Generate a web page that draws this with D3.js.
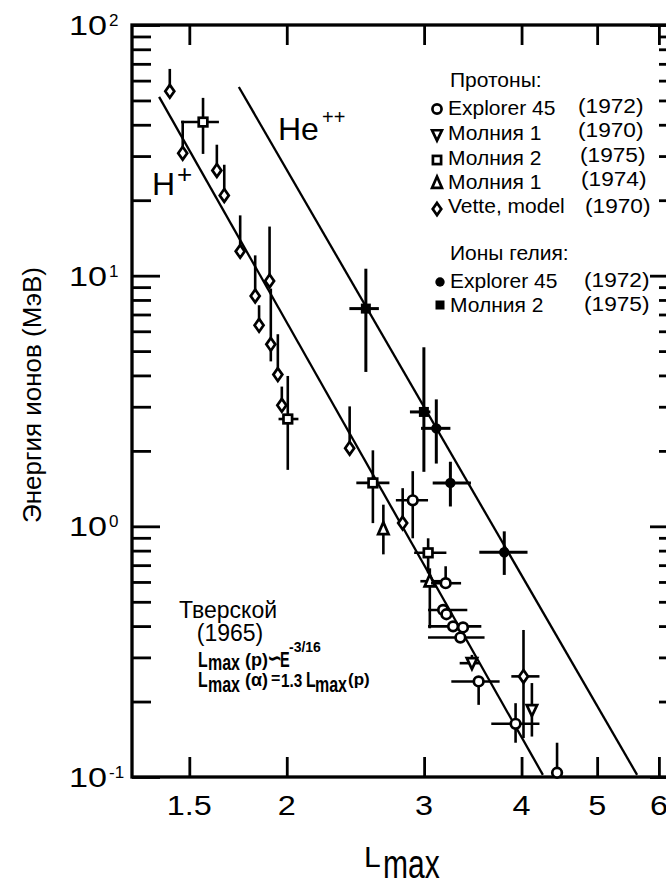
<!DOCTYPE html>
<html>
<head>
<meta charset="utf-8">
<script src="https://cdn.jsdelivr.net/npm/d3@7"></script>
<style>
  html, body { margin: 0; padding: 0; background: #fff; }
  svg { display: block; font-family: "Liberation Sans", Arial, sans-serif; }
</style>
</head>
<body>
<svg id="chart" width="666" height="882"></svg>
<script>
// ---------- data ----------
// x: L_max, y: ion energy (MeV)
const xTickValues = [1.5, 2, 3, 4, 5, 6];
const xTickLabels = ["1.5", "2", "3", "4", "5", "6"];
const yDecadeExponents = [2, 1, 0, -1];

// fitted lines, [L, E] end points
const protonLine = [[1.372, 51.7], [4.26, 0.102]];
const heliumLine = [[1.736, 56.6], [5.626, 0.102]];

// points: [L, E, L_low, L_high, E_low, E_high]  (null = no bar on that side)
const explorerProtons = [
  [2.901, 1.27, 2.760, 3.035, 0.896, 1.66],
  [3.197, 0.593, 3.062, 3.346, null, 0.693],
  [3.173, 0.464, 3.035, 3.408, null, null],
  [3.204, 0.446, null, null, null, null],
  [3.268, 0.399, 3.035, 3.552, null, null],
  [3.365, 0.395, null, null, null, null],
  [3.339, 0.360, 3.035, 3.586, null, null],
  [3.524, 0.2405, 3.251, 3.749, 0.194, null],
  [3.930, 0.163, 3.658, 4.217, 0.137, 0.197],
  [4.442, 0.104, null, null, null, 0.137]
];
const molniya1_1970 = [
  [3.455, 0.2845, 3.332, 3.534, null, 0.307],
  [4.124, 0.185, null, null, 0.145, 0.237]
];
const molniya2Protons = [
  [1.562, 41.0, 1.464, 1.637, 30.6, 51.2],
  [2.006, 2.68, 1.952, 2.070, 1.68, 3.98],
  [2.579, 1.49, 2.456, 2.708, 1.03, 2.01],
  [3.036, 0.784, 2.913, 3.204, 0.65, 0.896]
];
const molniya1_1974 = [
  [2.660, 0.976, null, null, 0.773, 1.22],
  [3.051, 0.604, 2.967, 3.157, 0.392, 0.680]
];
const vetteModel = [
  [1.416, 54.4, null, null, null, 66.8],
  [1.471, 30.8, null, null, null, 41.5],
  [1.627, 26.3, null, null, null, 33.3],
  [1.663, 20.9, null, null, null, 27.7],
  [1.743, 12.5, null, null, null, 17.4],
  [1.822, 8.30, null, null, null, 12.05],
  [1.901, 9.53, null, null, null, 15.7],
  [1.843, 6.34, null, null, null, 7.62],
  [1.908, 5.32, null, null, 4.55, 8.88],
  [1.948, 4.03, null, null, null, 5.84],
  [1.971, 3.04, null, null, null, 3.61],
  [2.408, 2.05, null, null, null, 3.01],
  [2.816, 1.03, null, null, null, 1.42],
  [4.023, 0.252, 3.881, 4.217, 0.143, 0.386]
];
const explorerHelium = [
  [3.110, 2.46, 2.973, 3.242, 1.78, 3.21],
  [3.242, 1.49, 3.077, 3.445, 1.20, 1.81],
  [3.801, 0.788, 3.531, 4.071, 0.640, 0.955]
];
const molniya2Helium = [
  [2.526, 7.39, 2.406, 2.625, 4.13, 10.66],
  [2.998, 2.86, 2.877, 3.056, 1.65, 5.18]
];

// legend entries
const protonNames = ["Explorer 45", "Молния 1", "Молния 2", "Молния 1", "Vette, model"];
const protonYears = ["(1972)", "(1970)", "(1975)", "(1974)", "(1970)"];
const protonMarkers = ["circle", "triDown", "square", "triUp", "diamond"];
const heliumNames = ["Explorer 45", "Молния 2"];
const heliumYears = ["(1972)", "(1975)"];
const heliumMarkers = ["dot", "block"];

// ---------- scales ----------
const svg = d3.select("#chart");
const X0 = 132, X1 = 678, Y0 = 25, Y1 = 777;
const x = d3.scaleLog().domain([1.2665, 6.348]).range([X0, X1]);
const y = d3.scaleLog().domain([0.1, 100]).range([Y1, Y0]);

// ---------- helpers ----------
function txt(g, str, px, py, o = {}) {
  return g.append("text")
    .attr("transform", `translate(${px},${py})` +
      (o.rot ? ` rotate(${o.rot})` : "") +
      ` scale(${o.sx || 1},${o.sy || 1})`)
    .attr("font-size", o.size || 20)
    .attr("font-weight", o.weight || "normal")
    .attr("text-anchor", o.anchor || "start")
    .attr("font-family", o.family || null)
    .attr("fill", "#000")
    .text(str);
}

function marker(g, type, cx, cy, k = 1) {
  const sw = 2.7;
  if (type === "circle") {
    g.append("circle").attr("cx", cx).attr("cy", cy).attr("r", 4.8 * k)
      .attr("fill", "#fff").attr("stroke", "#000").attr("stroke-width", sw);
  } else if (type === "dot") {
    g.append("circle").attr("cx", cx).attr("cy", cy).attr("r", 5.2 * k).attr("fill", "#000");
  } else if (type === "square") {
    const h = 4.3 * k;
    g.append("rect").attr("x", cx - h).attr("y", cy - h).attr("width", 2 * h).attr("height", 2 * h)
      .attr("fill", "#fff").attr("stroke", "#000").attr("stroke-width", sw);
  } else if (type === "block") {
    const h = 5 * k;
    g.append("rect").attr("x", cx - h).attr("y", cy - h).attr("width", 2 * h).attr("height", 2 * h)
      .attr("fill", "#000");
  } else {
    let pts;
    if (type === "diamond") pts = [[0, -6.4], [4.5, 0], [0, 6.4], [-4.5, 0]];
    else if (type === "triUp") pts = [[0, -6.8], [5.2, 5.2], [-5.2, 5.2]];
    else pts = [[-5.2, -5], [5.2, -5], [0, 6]];
    g.append("polygon")
      .attr("points", pts.map(p => [cx + p[0] * k, cy + p[1] * k].join(",")).join(" "))
      .attr("fill", "#fff").attr("stroke", "#000").attr("stroke-width", sw)
      .attr("stroke-linejoin", "miter");
  }
}

function drawSeries(g, data, type, barWidth) {
  const bars = g.append("g").attr("stroke", "#000").attr("stroke-width", barWidth);
  data.forEach(d => {
    const [L, E, Llo, Lhi, Elo, Ehi] = d;
    if (Llo !== null || Lhi !== null) {
      bars.append("line")
        .attr("x1", x(Llo ?? L)).attr("x2", x(Lhi ?? L))
        .attr("y1", y(E)).attr("y2", y(E));
    }
    if (Elo !== null || Ehi !== null) {
      bars.append("line")
        .attr("x1", x(L)).attr("x2", x(L))
        .attr("y1", y(Elo ?? E)).attr("y2", y(Ehi ?? E));
    }
  });
  const marks = g.append("g");
  data.forEach(d => marker(marks, type, x(d[0]), y(d[1])));
}

// ---------- axes / frame ----------
const majors = yDecadeExponents.map(e => Math.pow(10, e));
const minors = [];
for (let e = -1; e < 2; e++) for (let k = 2; k <= 9; k++) minors.push(k * Math.pow(10, e));

function plainTicks(g) {
  g.select(".domain").remove();
  g.selectAll(".tick text").remove();
  g.selectAll(".tick line").attr("stroke", "#000").attr("stroke-width", 2.8);
}
const axes = svg.append("g");
axes.append("g").attr("transform", `translate(${X0},0)`)
  .call(d3.axisLeft(y).tickValues(majors).tickSize(-28).tickFormat("")).call(plainTicks);
axes.append("g").attr("transform", `translate(${X0},0)`)
  .call(d3.axisLeft(y).tickValues(minors).tickSize(-19).tickFormat("")).call(plainTicks);
axes.append("g").attr("transform", `translate(${X1},0)`)
  .call(d3.axisRight(y).tickValues(majors).tickSize(-28).tickFormat("")).call(plainTicks);
axes.append("g").attr("transform", `translate(${X1},0)`)
  .call(d3.axisRight(y).tickValues(minors).tickSize(-19).tickFormat("")).call(plainTicks);
axes.append("g").attr("transform", `translate(0,${Y0})`)
  .call(d3.axisTop(x).tickValues(xTickValues).tickSize(-20).tickFormat("")).call(plainTicks);
axes.append("g").attr("transform", `translate(0,${Y1})`)
  .call(d3.axisBottom(x).tickValues(xTickValues).tickSize(-20).tickFormat("")).call(plainTicks);
axes.append("rect").attr("x", X0).attr("y", Y0).attr("width", X1 - X0).attr("height", Y1 - Y0)
  .attr("fill", "none").attr("stroke", "#000").attr("stroke-width", 3.3);

// tick labels
const labels = svg.append("g");
xTickValues.forEach((v, i) => {
  txt(labels, xTickLabels[i], x(v), 815, { size: 27, anchor: "middle", sx: 1.2 });
});
yDecadeExponents.forEach(e => {
  const ty = y(Math.pow(10, e));
  txt(labels, "10", 107, ty + 10, { size: 28, anchor: "end", sx: 1.22 });
  txt(labels, String(e), 109, ty + 1, { size: 17 });
});

// axis titles
txt(labels, "Энергия ионов (МэВ)", 41, 395, { size: 26, anchor: "middle", rot: -90 });
txt(labels, "L", 364, 867, { size: 30 });
txt(labels, "max", 383, 878, { size: 30, sy: 1.38 });

// ---------- fitted lines ----------
const line = d3.line().x(d => x(d[0])).y(d => y(d[1]));
svg.append("path").attr("d", line(protonLine)).attr("fill", "none").attr("stroke", "#000").attr("stroke-width", 2.3);
svg.append("path").attr("d", line(heliumLine)).attr("fill", "none").attr("stroke", "#000").attr("stroke-width", 2.3);

// ---------- data ----------
const dataG = svg.append("g");
drawSeries(dataG, vetteModel, "diamond", 2.6);
drawSeries(dataG, molniya2Protons, "square", 2.6);
drawSeries(dataG, molniya1_1974, "triUp", 2.6);
drawSeries(dataG, molniya1_1970, "triDown", 2.6);
drawSeries(dataG, explorerProtons, "circle", 2.6);
drawSeries(dataG, molniya2Helium, "block", 3);
drawSeries(dataG, explorerHelium, "dot", 3);

// ---------- annotations ----------
const ann = svg.append("g");
txt(ann, "H", 152, 195, { size: 32 });
txt(ann, "+", 177, 183, { size: 26 });
txt(ann, "He", 278, 140, { size: 32 });
txt(ann, "++", 322, 124, { size: 20 });

txt(ann, "Тверской", 228, 618, { size: 23, anchor: "middle" });
txt(ann, "(1965)", 230, 641, { size: 23, anchor: "middle" });

// L_max(p) ~ E^-3/16
txt(ann, "L", 198, 667, { size: 22, weight: "bold", sx: 0.72 });
txt(ann, "max", 208, 670, { size: 16, weight: "bold", sy: 1.4 });
txt(ann, "(p)", 245, 666, { size: 18, weight: "bold" });
txt(ann, "\u223D", 267, 666, { size: 24, weight: "bold", family: "DejaVu Sans", sx: 0.75 });
txt(ann, "E", 280, 667, { size: 22, weight: "bold", sx: 0.66 });
txt(ann, "-3/16", 289, 652, { size: 14, weight: "bold" });
// L_max(alpha) = 1.3 L_max(p)
txt(ann, "L", 198, 687, { size: 22, weight: "bold", sx: 0.72 });
txt(ann, "max", 208, 692, { size: 16, weight: "bold", sy: 1.4 });
txt(ann, "(\u03B1)", 245, 686, { size: 18, weight: "bold" });
txt(ann, "=", 271, 684, { size: 16, weight: "bold" });
txt(ann, "1.3", 281, 687, { size: 18, weight: "bold", sx: 0.85 });
txt(ann, "L", 306, 687, { size: 22, weight: "bold", sx: 0.72 });
txt(ann, "max", 315, 692, { size: 16, weight: "bold", sy: 1.4 });
txt(ann, "(p)", 348, 685, { size: 17, weight: "bold" });

// ---------- legend ----------
const leg = svg.append("g");
txt(leg, "Протоны:", 450, 87, { size: 21 });
const pRowBase = [115, 140, 165, 189, 213];
const pYearBase = [113, 137, 162, 186, 213];
const pYearX = [578, 578, 580, 581, 585];
const pMarkY = [109, 135, 160, 183, 209];
protonNames.forEach((n, i) => {
  marker(leg, protonMarkers[i], 437, pMarkY[i], 0.95);
  txt(leg, n, 448, pRowBase[i], { size: 21 });
  txt(leg, protonYears[i], pYearX[i], pYearBase[i], { size: 21, sx: 1.08 });
});
txt(leg, "Ионы гелия:", 450, 260, { size: 21 });
const hRowBase = [288, 312];
const hMarkY = [282, 305];
heliumNames.forEach((n, i) => {
  marker(leg, heliumMarkers[i], 440, hMarkY[i], 0.9);
  txt(leg, n, 450, hRowBase[i], { size: 21 });
  txt(leg, heliumYears[i], 584, hRowBase[i] - 1, { size: 21, sx: 1.08 });
});
</script>
</body>
</html>
